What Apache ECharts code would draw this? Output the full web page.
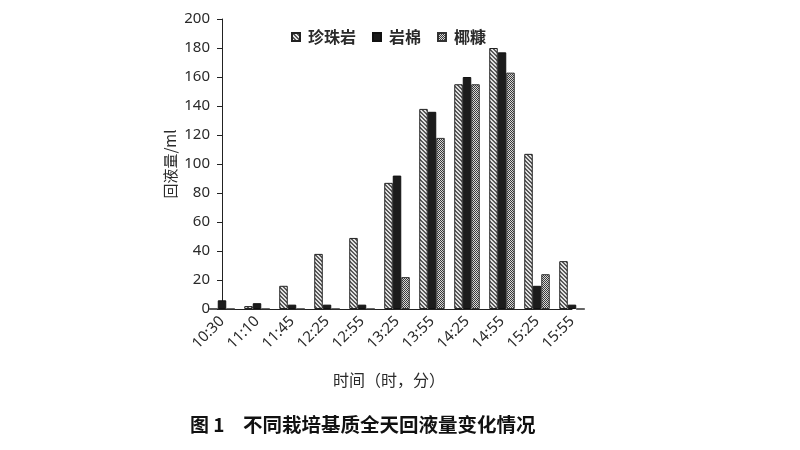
<!DOCTYPE html>
<html>
<head>
<meta charset="utf-8">
<script src="https://cdn.jsdelivr.net/npm/echarts@6/dist/echarts.min.js"></script>
<style>
html,body{margin:0;padding:0;background:#fff;}
#chart{width:800px;height:450px;}
</style>
</head>
<body>
<div id="chart"></div>
<script>
var categories = ['10:30','11:10','11:45','12:25','12:55','13:25','13:55','14:25','14:55','15:25','15:55'];
var seriesNames = ['珍珠岩','岩棉','椰糠'];
var pearlite = [0, 2, 16, 38, 49, 87, 138, 155, 180, 107, 33];
var rockwool = [6, 4, 3, 3, 3, 92, 136, 160, 177, 16, 3];
var coir = [0, 0, 0, 0, 0, 22, 118, 155, 163, 24, 0];
var yTicks = {min: 0, max: 200, interval: 20};

function makePattern(kind) {
  var c = document.createElement('canvas');
  var ctx = c.getContext('2d');
  if (kind === 'diag') {
    c.width = 4; c.height = 4;
    ctx.fillStyle = '#e4e4e4'; ctx.fillRect(0,0,4,4);
    ctx.fillStyle = '#5a5a5a';
    for (var i = 0; i < 4; i++) { ctx.fillRect(i, i, 1, 1); ctx.fillRect((i+1)%4, i, 1, 1); }
  } else {
    c.width = 2; c.height = 2;
    ctx.fillStyle = '#d8d8d8'; ctx.fillRect(0,0,2,2);
    ctx.fillStyle = '#3a3a3a'; ctx.fillRect(0,0,1,1); ctx.fillRect(1,1,1,1);
  }
  return {image: c, repeat: 'repeat'};
}

var chart = echarts.init(document.getElementById('chart'));
var textColor = '#2a2a2a';
var baseFont = '"Noto Sans", "Noto Sans CJK SC", sans-serif';
var cjkFont = '"Noto Sans CJK SC", sans-serif';
function barSeries(name, data, color, border) {
  return {
    name: name, type: 'bar', data: data, barWidth: 8.5, barGap: '0%', clip: true,
    itemStyle: {color: color, borderColor: border, borderWidth: 1}
  };
}
chart.setOption({
  animation: false,
  backgroundColor: '#fff',
  grid: {left: 222, top: 19, width: 350, bottom: 141, containLabel: false},
  legend: {
    left: 286, top: 24, icon: 'rect', itemWidth: 8, itemHeight: 8, itemGap: 16,
    textStyle: {fontSize: 16, color: textColor, fontFamily: cjkFont, fontWeight: 'bold', padding: [0, 0, 0, 3]},
    data: seriesNames
  },
  xAxis: {
    type: 'category', data: categories, boundaryGap: false,
    axisLine: {show: true, lineStyle: {color: '#222', width: 1}},
    axisTick: {show: false},
    axisLabel: {rotate: 45, fontSize: 15, color: textColor, margin: 10, fontFamily: baseFont, interval: 0}
  },
  yAxis: {
    type: 'value', min: yTicks.min, max: yTicks.max, interval: yTicks.interval,
    name: '回液量/ml', nameLocation: 'middle', nameRotate: 90, nameGap: 44,
    nameTextStyle: {fontSize: 15, color: textColor, fontFamily: cjkFont},
    axisLine: {show: true, lineStyle: {color: '#222', width: 1}},
    axisTick: {show: true, inside: false, length: 5, lineStyle: {color: '#222'}},
    splitLine: {show: false},
    axisLabel: {fontSize: 15, color: textColor, margin: 12, fontFamily: baseFont}
  },
  graphic: [
    {type: 'text', left: 333, top: 372, style: {text: '时间（时，分）', fontSize: 16, fill: textColor, fontFamily: cjkFont}},
    {type: 'text', left: 190, top: 415, style: {text: '图 1', fontSize: 19, fill: '#111', fontWeight: 'bold', fontFamily: '"Noto Sans CJK SC", serif'}},
    {type: 'text', left: 243, top: 415, style: {text: '不同栽培基质全天回液量变化情况', fontSize: 19.5, fill: '#111', fontWeight: 'bold', fontFamily: cjkFont}}
  ],
  series: [
    barSeries(seriesNames[0], pearlite, makePattern('diag'), '#222'),
    barSeries(seriesNames[1], rockwool, '#1c1c1c', '#111'),
    barSeries(seriesNames[2], coir, makePattern('check'), '#333')
  ]
});
</script>
</body>
</html>
